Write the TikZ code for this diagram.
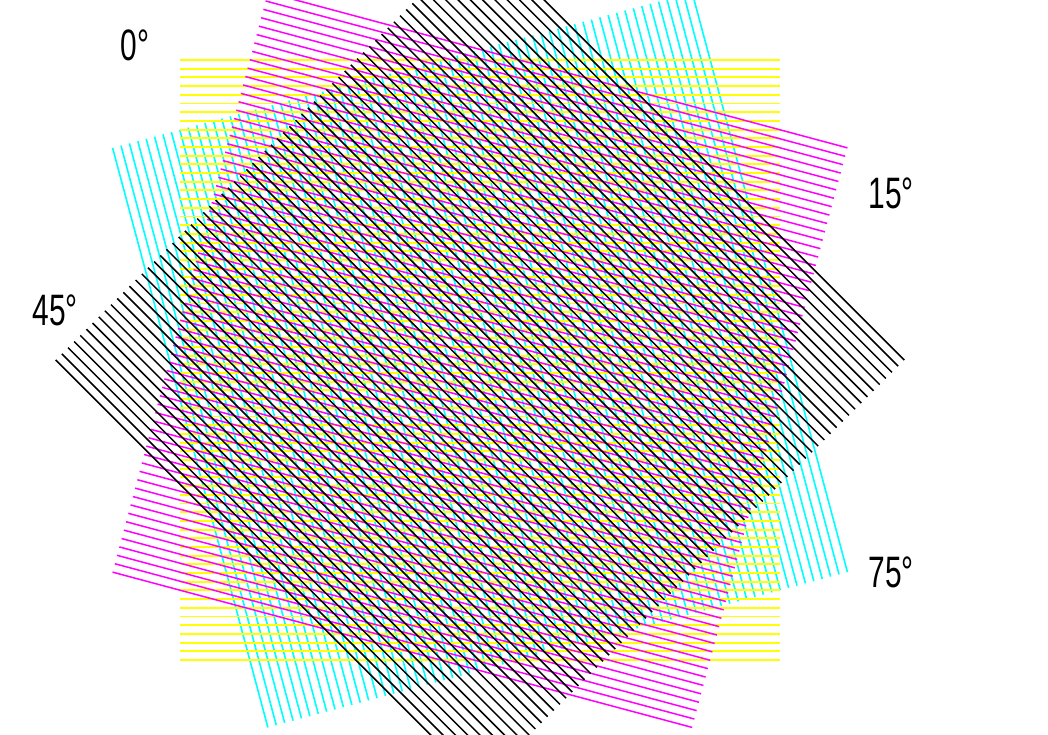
\documentclass[tikz,border=0pt]{standalone}
\usepackage{fontspec}
\setmainfont{Liberation Sans}
\usetikzlibrary{positioning}
\tikzset{every picture/.style={line width=0.75pt}}
\definecolor{cyanink}{RGB}{0,255,255}
\definecolor{yellowink}{RGB}{255,255,0}
\definecolor{magentaink}{RGB}{255,0,255}
\tikzset{
  hatch/.style={line width=1.5pt},
  anglelabel/.style={font=\fontsize{44}{44}\selectfont, xscale=0.68, inner sep=0pt},
}

\begin{document}
\begin{tikzpicture}[x=1pt,y=1pt]
    \useasboundingbox (0,0) rectangle (1048,734);
    \clip (0,0) rectangle (1048,734);

    % 四个旋转的网屏
    \foreach \ang/\col/\w in {-75/cyanink/1.6, 0/yellowink/1.9, -15/magentaink/1.5, -45/black/1.5} {
        \begin{scope}[shift={(480,374)}, rotate=\ang]
            \foreach \k in {0,...,69}
                \draw[hatch, \col, line width=\w pt] (-300, {-300+\k*8.69565}) -- (300, {-300+\k*8.69565});
        \end{scope}
    }

    % 角度标注
    \node[anglelabel] (lab0)  at (135,689) {0°};
    \node[anglelabel] (lab15) at (891,541) {15°};
    \node[anglelabel] (lab45) at (55,424)  {45°};
    \node[anglelabel] (lab75) at (891,162) {75°};
\end{tikzpicture}
\end{document}
